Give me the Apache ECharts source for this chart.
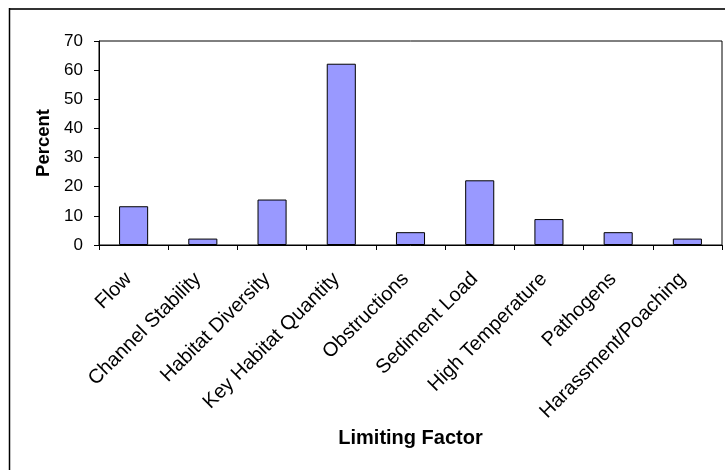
<!DOCTYPE html>
<html>
<head>
<meta charset="utf-8">
<script src="https://cdn.jsdelivr.net/npm/echarts@6/dist/echarts.min.js"></script>
<style>
  html, body { margin: 0; padding: 0; background: #fff; }
  #chart { width: 725px; height: 470px; }
</style>
</head>
<body>
<div id="chart"></div>
<script>
// Limiting factors and the share of cases (percent) where each applies
const categories = [
  'Flow', 'Channel Stability', 'Habitat Diversity', 'Key Habitat Quantity',
  'Obstructions', 'Sediment Load', 'High Temperature', 'Pathogens',
  'Harassment/Poaching'
];
const percentValues = [13.3, 2.2, 15.6, 62.2, 4.4, 22.2, 8.9, 4.4, 2.2];
const yTicks = [0, 10, 20, 30, 40, 50, 60, 70];

const font = '"Liberation Sans", Arial, sans-serif';
const chart = echarts.init(document.getElementById('chart'), null, { renderer: 'canvas' });

chart.setOption({
  animation: false,
  backgroundColor: '#ffffff',
  grid: {
    left: 99, right: 3, top: 41, bottom: 225,
    show: true, borderColor: '#000', borderWidth: 1, backgroundColor: 'transparent'
  },
  xAxis: {
    type: 'category',
    data: categories,
    name: 'Limiting Factor',
    nameLocation: 'middle',
    nameGap: 183,
    nameTextStyle: { fontFamily: font, fontSize: 20, fontWeight: 'bold', color: '#000' },
    axisLine: { lineStyle: { color: '#000', width: 1 } },
    axisTick: { show: true, length: 5, lineStyle: { color: '#000' } },
    axisLabel: {
      interval: 0, rotate: 45, margin: 26, padding: [0, 7, 0, 0],
      fontFamily: font, fontSize: 20, color: '#000'
    }
  },
  yAxis: {
    type: 'value',
    min: yTicks[0],
    max: yTicks[yTicks.length - 1],
    interval: yTicks[1] - yTicks[0],
    name: 'Percent',
    nameLocation: 'middle',
    nameGap: 46,
    nameTextStyle: { fontFamily: font, fontSize: 18.5, fontWeight: 'bold', color: '#000' },
    axisLine: { show: true, lineStyle: { color: '#000', width: 1 } },
    axisTick: { show: true, length: 5, lineStyle: { color: '#000' } },
    axisLabel: { margin: 16, fontFamily: font, fontSize: 17, color: '#000' },
    splitLine: { show: false }
  },
  series: [{
    type: 'bar',
    data: percentValues,
    barWidth: '42%',
    itemStyle: { color: '#9999ff', borderColor: '#000', borderWidth: 1 }
  }],
  graphic: [
    // outer chart frame (top and left edges)
    { type: 'line', shape: { x1: 9, y1: 9, x2: 725, y2: 9 }, style: { stroke: '#333', lineWidth: 2 } },
    { type: 'line', shape: { x1: 9.5, y1: 8, x2: 9.5, y2: 470 }, style: { stroke: '#000', lineWidth: 1.5 } }
  ]
});
</script>
</body>
</html>
